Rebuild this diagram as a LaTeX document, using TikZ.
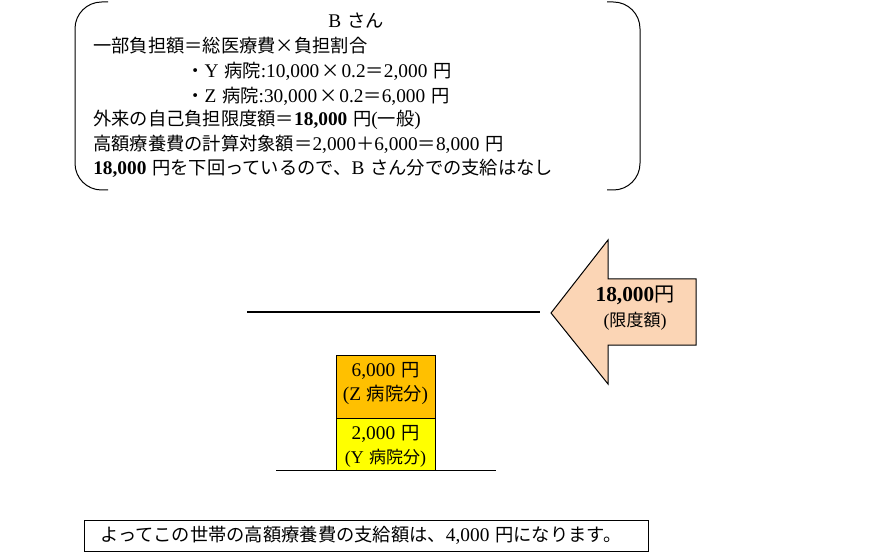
\documentclass[tikz,border=0pt]{standalone}
\usepackage{fontspec}
\setmainfont{Liberation Serif}
\newfontfamily\cjk[Scale=0.945]{Noto Sans CJK JP}
\newcommand\J[1]{{\cjk #1}}
\newcommand\gapsp{\hspace{0.3em}}
\newcommand\Bnum[1]{\textbf{#1}}
\definecolor{peach}{HTML}{FBD5B5}
\definecolor{orangebox}{HTML}{FFC000}
\definecolor{yellowbox}{HTML}{FFFF00}
\begin{document}
\begin{tikzpicture}[x=0.75pt,y=-0.75pt,
  txt/.style={inner sep=0pt,anchor=west,font=\fontsize{14.5}{16}\selectfont},
  ctxt/.style={inner sep=0pt,font=\fontsize{14.5}{16}\selectfont},
  stxt/.style={inner sep=0pt,font=\fontsize{13.5}{15}\selectfont},
  thin/.style={line width=0.75pt},
]
\useasboundingbox (0,0) rectangle (877,559);
% brackets
\draw[thin,rounded corners=20pt] (108,2) -- (75,2) -- (75,190) -- (108,190);
\draw[thin,rounded corners=20pt] (607,2) -- (640,2) -- (640,190) -- (607,190);
% text lines
\node[ctxt] (title) at (356,21) {B\gapsp\J{さん}};
\node[txt] (l1) at (93,46) {\J{一部負担額＝総医療費×負担割合}};
\node[txt] (l2) at (186,71) {\J{・}Y\gapsp\J{病院}:10,000\hspace{0.1em}\J{×}\hspace{0.1em}0.2\J{＝}2,000\gapsp\J{円}};
\node[txt] (l3) at (186,96) {\J{・}Z\gapsp\J{病院}:30,000\hspace{0.1em}\J{×}\hspace{0.1em}0.2\J{＝}6,000\gapsp\J{円}};
\node[txt] (l4) at (93,120) {\J{外来の自己負担限度額＝}\Bnum{18,000}\gapsp\J{円}(\J{一般})};
\node[txt] (l5) at (93,144) {\J{高額療養費の計算対象額＝}2,000\J{＋}6,000\J{＝}8,000\gapsp\J{円}};
\node[txt] (l6) at (93,168) {\Bnum{18,000}\gapsp\J{円を下回っているので、}B\gapsp\J{さん分での支給はなし}};
% limit line
\draw[line width=1.5pt] (247,312) coordinate (la) -- (540,312) coordinate (lb);
% arrow
\draw[thin,fill=peach] (551,313) -- (608,240) -- (608,279) -- (696,279) -- (696,345) -- (608,345) -- (608,384) -- cycle;
\node[ctxt,font=\fontsize{16}{18}\selectfont] (a1) at (635,295) {\textbf{18,000}\J{円}};
\node[stxt] (a2) at (635,321) {(\J{限度額})};
% stacked boxes
\draw[thin,fill=orangebox] (336,355) rectangle (435,418);
\draw[thin,fill=yellowbox] (336,418) rectangle (435,470);
\node[ctxt] (z1) at (385.5,371) {6,000\gapsp\J{円}};
\node[ctxt] (z2) at (385.5,395) {(Z\gapsp\J{病院分})};
\node[ctxt] (y1) at (385.5,434) {2,000\gapsp\J{円}};
\node[stxt] (y2) at (385.5,458) {(Y\gapsp\J{病院分})};
\draw[thin] (276,470) coordinate (ba) -- (496,470) coordinate (bb);
% bottom
\draw[thin] (84,520) rectangle (648,551);
\node[txt] (res) at (100,535.5) {\J{よってこの世帯の高額療養費の支給額は、}4,000\gapsp\J{円になります。}};
\end{tikzpicture}
\end{document}
